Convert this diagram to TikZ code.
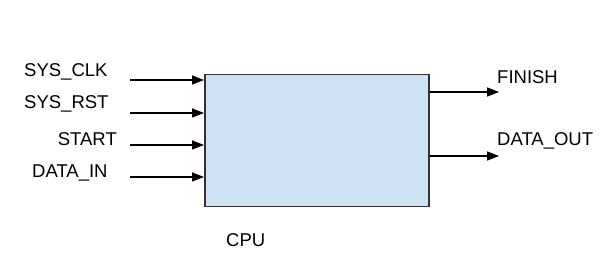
\documentclass[tikz,border=0pt]{standalone}
\usepackage{fontspec}
\setmainfont{Liberation Sans}
\usetikzlibrary{arrows.meta}
\begin{document}
\begin{tikzpicture}[x=1pt,y=-1pt,
  lbl/.style={font=\fontsize{18.5}{21}\selectfont, inner sep=0pt},
  sig/.style={line width=1.4pt, -{Triangle[length=12pt,width=9pt]}},
  cpubox/.style={draw=black!80, line width=1.5pt, fill={rgb,255:red,207;green,226;blue,243}}]
\useasboundingbox (0,0) rectangle (612,253);
\node[cpubox, minimum width=224pt, minimum height=132pt, anchor=north west, inner sep=0pt] (cpu) at (204,74) {};
\coordinate (i1) at (130,80);
\coordinate (i2) at (130,113);
\coordinate (i3) at (130,145);
\coordinate (i4) at (130,177);
\draw[sig] (i1) -- (i1 -| cpu.west);
\draw[sig] (i2) -- (i2 -| cpu.west);
\draw[sig] (i3) -- (i3 -| cpu.west);
\draw[sig] (i4) -- (i4 -| cpu.west);
\coordinate (o1) at (499,92);
\coordinate (o2) at (499,156);
\draw[sig] (o1 -| cpu.east) -- (o1);
\draw[sig] (o2 -| cpu.east) -- (o2);
\node[lbl, anchor=west] (l1) at (24,72) {SYS\_CLK};
\node[lbl, anchor=west] (l2) at (24,104) {SYS\_RST};
\node[lbl, anchor=east] (l3) at (117,139) {START};
\node[lbl, anchor=west] (l4) at (32,173) {DATA\_IN};
\node[lbl, anchor=west] (r1) at (497,77) {FINISH};
\node[lbl, anchor=west] (r2) at (497,141) {DATA\_OUT};
\node[lbl, anchor=west] (cpul) at (226,240) {CPU};
\end{tikzpicture}
\end{document}
